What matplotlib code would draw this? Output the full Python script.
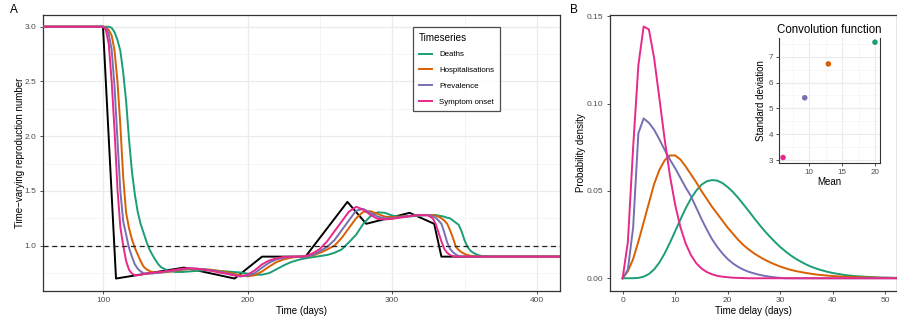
import matplotlib.pyplot as plt
from matplotlib.lines import Line2D
from matplotlib.ticker import MultipleLocator

plt.rcParams['font.family'] = ['Liberation Sans', 'DejaVu Sans']

series = ['Deaths', 'Hospitalisations', 'Prevalence', 'Symptom onset']
colours = ['#1B9E77', '#D95F02', '#7570B3', '#E7298A']

# true Rt (black, piecewise)
rt_days = [55, 100, 109, 156, 191, 210, 240, 269, 282, 312, 329, 334, 420]
rt_true = [3.0, 3.0, 0.7, 0.8, 0.7, 0.9, 0.9, 1.4, 1.2, 1.3, 1.2, 0.9, 0.9]

# Rt as seen through each timeseries
days = [55, 95, 100, 102, 104, 106, 108, 110, 112, 114, 116, 118, 120, 122,
        124, 126, 128, 130, 132, 134, 136, 138, 140,
        145, 150, 155, 160, 165, 170, 175, 180, 185, 190, 195, 200,
        205, 210, 215, 220, 225, 230, 235, 240, 245, 250, 255, 260,
        265, 270, 275, 280, 285, 290, 295, 300, 305, 310, 315, 320,
        325, 328, 330, 332, 334, 336, 338, 340, 342, 344,
        346, 348, 350, 352, 354, 356, 358, 360, 362, 365, 370, 380, 420]

rt_deaths = [3.0, 3.0, 3.0, 3.0, 3.0, 2.99, 2.95, 2.88, 2.78, 2.58, 2.32, 1.97, 1.68, 1.47,
             1.31, 1.2, 1.12, 1.04, 0.97, 0.92, 0.875, 0.835, 0.805,
             0.77, 0.76, 0.76, 0.765, 0.77, 0.775, 0.775, 0.77, 0.765, 0.76, 0.755, 0.745,
             0.735, 0.735, 0.75, 0.785, 0.82, 0.85, 0.87, 0.885, 0.895, 0.905, 0.915, 0.935,
             0.965, 1.03, 1.1, 1.2, 1.27, 1.305, 1.3, 1.275, 1.265, 1.265, 1.27, 1.275,
             1.28, 1.28, 1.28, 1.275, 1.27, 1.265, 1.255, 1.25, 1.23, 1.21,
             1.19, 1.13, 1.05, 0.99, 0.955, 0.935, 0.922, 0.912, 0.906, 0.902, 0.9, 0.9, 0.9]
rt_hosp = [3.0, 3.0, 3.0, 2.995, 2.97, 2.92, 2.78, 2.5, 2.1, 1.62, 1.3, 1.16, 1.06, 0.98,
           0.92, 0.86, 0.81, 0.785, 0.77, 0.76, 0.755, 0.755, 0.755,
           0.76, 0.77, 0.78, 0.785, 0.785, 0.785, 0.78, 0.77, 0.76, 0.745, 0.73, 0.72,
           0.73, 0.765, 0.81, 0.85, 0.875, 0.89, 0.898, 0.9, 0.91, 0.935, 0.965, 1.0,
           1.07, 1.16, 1.25, 1.31, 1.315, 1.29, 1.265, 1.26, 1.265, 1.27, 1.275, 1.28,
           1.28, 1.28, 1.275, 1.265, 1.25, 1.23, 1.2, 1.14, 1.07, 0.99,
           0.96, 0.94, 0.925, 0.915, 0.908, 0.904, 0.902, 0.9, 0.9, 0.9, 0.9, 0.9, 0.9]
rt_prev = [3.0, 3.0, 3.0, 2.99, 2.93, 2.79, 2.45, 1.97, 1.5, 1.22, 1.1, 0.98, 0.9, 0.83,
           0.79, 0.765, 0.75, 0.745, 0.745, 0.745, 0.75, 0.75, 0.755,
           0.765, 0.775, 0.785, 0.79, 0.79, 0.785, 0.775, 0.765, 0.75, 0.735, 0.72, 0.725,
           0.75, 0.8, 0.845, 0.875, 0.89, 0.897, 0.9, 0.9, 0.915, 0.95, 0.99, 1.05,
           1.14, 1.23, 1.32, 1.335, 1.3, 1.265, 1.25, 1.25, 1.26, 1.27, 1.275, 1.28,
           1.28, 1.27, 1.255, 1.23, 1.2, 1.12, 1.03, 0.97, 0.94, 0.92,
           0.905, 0.9, 0.9, 0.9, 0.9, 0.9, 0.9, 0.9, 0.9, 0.9, 0.9, 0.9, 0.9]
rt_onset = [3.0, 3.0, 3.0, 2.97, 2.84, 2.5, 2.05, 1.52, 1.17, 1.0, 0.86, 0.78, 0.745, 0.73,
            0.73, 0.735, 0.74, 0.745, 0.75, 0.752, 0.755, 0.758, 0.76,
            0.77, 0.78, 0.79, 0.795, 0.79, 0.78, 0.77, 0.755, 0.745, 0.73, 0.72, 0.735,
            0.775, 0.83, 0.865, 0.885, 0.897, 0.9, 0.9, 0.905, 0.93, 0.97, 1.04, 1.13,
            1.22, 1.31, 1.355, 1.33, 1.28, 1.245, 1.24, 1.245, 1.255, 1.265, 1.275, 1.28,
            1.275, 1.25, 1.2, 1.12, 1.04, 0.97, 0.935, 0.915, 0.905, 0.9,
            0.9, 0.9, 0.9, 0.9, 0.9, 0.9, 0.9, 0.9, 0.9, 0.9, 0.9, 0.9, 0.9]

# delay distributions (panel B)
delay = list(range(54))
pdf_deaths = [0, 0, 0.00003, 0.0002, 0.0009, 0.0024, 0.0051, 0.009, 0.0142, 0.0203,
              0.0269, 0.0336, 0.040, 0.0456, 0.0501, 0.0535, 0.0555, 0.0562, 0.0559, 0.0545,
              0.0522, 0.0494, 0.046, 0.0423, 0.0385, 0.0346, 0.0308, 0.0272, 0.0239, 0.0208,
              0.0179, 0.0154, 0.0131, 0.0111, 0.0094, 0.0078, 0.0065, 0.0054, 0.0045, 0.0037,
              0.003, 0.0025, 0.002, 0.0016, 0.0013, 0.0011, 0.0009, 0.0007, 0.0006, 0.0004,
              0.0004, 0.0003, 0.0002, 0.0002]
pdf_hosp = [0, 0.004, 0.011, 0.021, 0.032, 0.043, 0.054, 0.062, 0.0675, 0.0703,
            0.0703, 0.068, 0.064, 0.0595, 0.055, 0.050, 0.0455, 0.041, 0.037, 0.033,
            0.029, 0.0255, 0.022, 0.019, 0.0165, 0.0143, 0.0124, 0.0107, 0.0092, 0.0079,
            0.0067, 0.0057, 0.0048, 0.0041, 0.0035, 0.003, 0.0025, 0.0021, 0.0018, 0.0015,
            0.0013, 0.0011, 0.0009, 0.0008, 0.0007, 0.0006, 0.0005, 0.0004, 0.0003, 0.0003,
            0.0002, 0.0002, 0.0002, 0.0001]
pdf_prev = [0, 0.005, 0.029, 0.083, 0.0915, 0.089, 0.085, 0.0795, 0.0735, 0.068,
            0.063, 0.0575, 0.052, 0.047, 0.0405, 0.034, 0.028, 0.0225, 0.018, 0.0142,
            0.011, 0.0085, 0.0065, 0.0049, 0.0037, 0.0028, 0.002, 0.0014, 0.0009, 0.0005,
            0.0002, 0, 0, 0, 0, 0, 0, 0, 0, 0,
            0, 0, 0, 0, 0, 0, 0, 0, 0, 0,
            0, 0, 0, 0]
pdf_onset = [0, 0.0208, 0.0748, 0.122, 0.1441, 0.1425, 0.126, 0.103, 0.0796, 0.0588,
             0.0421, 0.0293, 0.0199, 0.0133, 0.0087, 0.0056, 0.0036, 0.0023, 0.0014, 0.0009,
             0.0006, 0.0003, 0.0002, 0.0001, 0, 0, 0, 0, 0, 0,
             0, 0, 0, 0, 0, 0, 0, 0, 0, 0,
             0, 0, 0, 0, 0, 0, 0, 0, 0, 0,
             0, 0, 0, 0]

# summary of each convolution (inset)
conv_mean = [20.0, 12.9, 9.3, 6.0]
conv_sd = [7.56, 6.72, 5.41, 3.1]

rt_series = [rt_deaths, rt_hosp, rt_prev, rt_onset]
pdf_series = [pdf_deaths, pdf_hosp, pdf_prev, pdf_onset]

tick_col = '#4D4D4D'
border_col = '#333333'
grid_major = '#EBEBEB'
grid_minor = '#F4F4F4'


def style_ticks(ax, size=6.0):
    ax.tick_params(axis='both', which='major', direction='out', length=2.5, width=0.6,
                   color=border_col, labelcolor=tick_col, labelsize=size, pad=2)
    ax.tick_params(axis='both', which='minor', length=0)


fig = plt.figure(figsize=(8.97, 3.2), dpi=100)

# ---- panel A ----
axA = fig.add_axes([0.0479, 0.0906, 0.5764, 0.8625])
for c in ['top', 'right', 'bottom', 'left']:
    axA.spines[c].set_color(border_col)
    axA.spines[c].set_linewidth(0.9)
axA.plot(rt_days, rt_true, color='black', lw=1.4, zorder=3)
for vals, col in zip(rt_series, colours):
    axA.plot(days, vals, color=col, lw=1.4, zorder=4)
axA.axhline(1.0, color='#222222', lw=0.9, ls=(0, (4, 3)), zorder=5)
axA.set_xlim(58.5, 416)
axA.set_ylim(0.586, 3.107)
axA.xaxis.set_major_locator(MultipleLocator(100))
axA.xaxis.set_minor_locator(MultipleLocator(50))
axA.set_yticks([1.0, 1.5, 2.0, 2.5, 3.0])
axA.set_yticks([0.75, 1.25, 1.75, 2.25, 2.75], minor=True)
axA.grid(True, which='major', color=grid_major, lw=0.9, zorder=0)
axA.grid(True, which='minor', color=grid_minor, lw=0.6, zorder=0)
axA.set_axisbelow(True)
style_ticks(axA)
axA.set_xlabel('Time (days)', fontsize=7, labelpad=1.5)
axA.set_ylabel('Time\u2212varying reproduction number', fontsize=7, labelpad=0)

handles = [Line2D([], [], color=c, lw=1.4) for c in colours]
leg = fig.legend(handles, series, title='Timeseries', loc='upper left',
                 bbox_to_anchor=(0.4562, 0.928), fontsize=5.7, title_fontsize=7.1,
                 frameon=True, fancybox=False, handlelength=1.7, handletextpad=0.9,
                 labelspacing=1.05, borderpad=0.7, alignment='left')
leg.get_frame().set_edgecolor('#222222')
leg.get_frame().set_linewidth(0.9)

# ---- panel B ----
axB = fig.add_axes([0.6800, 0.0906, 0.3195, 0.8625])
for c in ['top', 'right', 'bottom', 'left']:
    axB.spines[c].set_color(border_col)
    axB.spines[c].set_linewidth(0.9)
for vals, col in zip(pdf_series, colours):
    axB.plot(delay, vals, color=col, lw=1.4)
axB.set_xlim(-2.41, 52.15)
axB.set_ylim(-0.0073, 0.1507)
axB.set_xticks([0, 10, 20, 30, 40, 50])
axB.set_yticks([0.0, 0.05, 0.10, 0.15])
axB.set_yticklabels(['0.00', '0.05', '0.10', '0.15'])
style_ticks(axB)
axB.set_xlabel('Time delay (days)', fontsize=7, labelpad=1.5)
axB.set_ylabel('Probability density', fontsize=7, labelpad=1)

# ---- inset ----
axI = fig.add_axes([0.8688, 0.4916, 0.1122, 0.3887])
axI.scatter(conv_mean, conv_sd, c=colours, s=16, zorder=3, linewidths=0)
axI.set_xlim(5.43, 20.76)
axI.set_ylim(2.9, 7.71)
axI.set_xticks([10, 15, 20])
axI.set_xticks([7.5, 12.5, 17.5], minor=True)
axI.set_yticks([3, 4, 5, 6, 7])
axI.set_yticks([3.5, 4.5, 5.5, 6.5, 7.5], minor=True)
axI.grid(True, which='major', color=grid_major, lw=0.8, zorder=0)
axI.grid(True, which='minor', color=grid_minor, lw=0.5, zorder=0)
axI.set_axisbelow(True)
axI.spines['top'].set_visible(False)
for c in ['right', 'bottom', 'left']:
    axI.spines[c].set_color(border_col)
    axI.spines[c].set_linewidth(0.8)
style_ticks(axI, size=5.8)
axI.set_xlabel('Mean', fontsize=7, labelpad=1)
axI.set_ylabel('Standard deviation', fontsize=7, labelpad=2)
axI.set_title('Convolution function', fontsize=8.3, pad=4)

fig.text(0.011, 0.97, 'A', fontsize=8.5, va='center', ha='left')
fig.text(0.636, 0.97, 'B', fontsize=8.5, va='center', ha='left')

fig.savefig('out.png', dpi=100)
